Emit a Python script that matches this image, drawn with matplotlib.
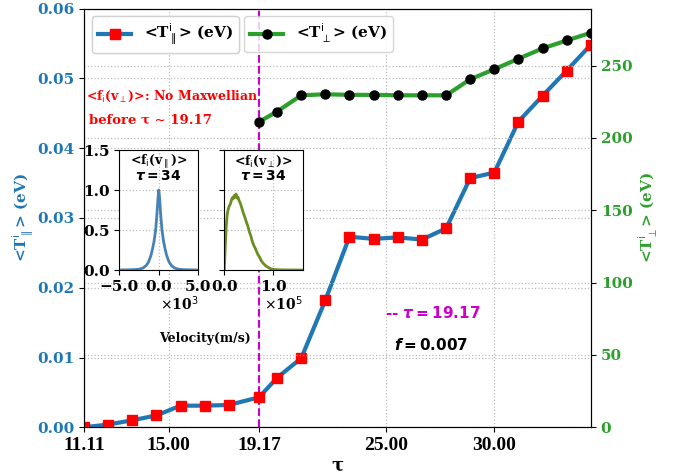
import matplotlib
matplotlib.use("Agg")
import matplotlib.pyplot as plt

# ---------------- data ----------------
tau = [11.11, 12.22, 13.33, 14.44, 15.56, 16.67, 17.78, 19.17, 20.00, 21.11, 22.22,
       23.33, 24.44, 25.56, 26.67, 27.78, 28.89, 30.00, 31.11, 32.22, 33.33, 34.44]
T_par = [0.0000, 0.0004, 0.0010, 0.0017, 0.0031, 0.0031, 0.0032, 0.0043, 0.0071, 0.0099, 0.0182,
         0.0273, 0.0270, 0.0272, 0.0269, 0.0285, 0.0357, 0.0365, 0.0438, 0.0475, 0.0511, 0.0548]
tau_perp = [19.17, 20.00, 21.11, 22.22, 23.33, 24.44, 25.56, 26.67, 27.78,
            28.89, 30.00, 31.11, 32.22, 33.33, 34.44]
T_perp = [211.2, 218.3, 229.5, 230.2, 229.8, 229.8, 229.5, 229.5, 229.5,
          240.6, 247.5, 254.8, 261.9, 267.4, 272.7]
xtick_vals = [11.11, 15.00, 19.17, 25.00, 30.00]
xtick_labels = ["11.11", "15.00", "19.17", "25.00", "30.00"]
left_yticks = [0, 0.01, 0.02, 0.03, 0.04, 0.05, 0.06]
left_yticklabels = ['0.00', '0.01', '0.02', '0.03', '0.04', '0.05', '0.06']
right_yticks = [0, 50, 100, 150, 200, 250]
tau_mark = 19.17

v_par = [-5000, -4000, -3000, -2500, -2000, -1600, -1300, -1000, -800, -600, -400, -250, -100, 0,
         100, 250, 400, 600, 800, 1000, 1300, 1600, 2000, 2500, 3000, 4000, 5000]
f_par = [0.0, 0.002, 0.005, 0.01, 0.025, 0.055, 0.10, 0.18, 0.26, 0.36, 0.50, 0.68, 0.90, 1.0,
         0.90, 0.68, 0.50, 0.36, 0.26, 0.18, 0.10, 0.055, 0.025, 0.01, 0.005, 0.002, 0.0]
v_perp = [0, 2000, 4000, 6000, 8000, 10000, 12000, 14000, 16000, 18000, 20000, 22000, 24000,
          26000, 28000, 30000, 33000, 36000, 39000, 42000, 45000, 48000, 51000, 54000, 57000,
          60000, 64000, 68000, 72000, 76000, 80000, 85000, 90000, 95000, 100000, 110000,
          120000, 140000, 160000]
f_perp = [0.0, 0.30, 0.55, 0.70, 0.76, 0.80, 0.82, 0.86, 0.90, 0.89, 0.93, 0.91, 0.95,
          0.90, 0.91, 0.87, 0.83, 0.77, 0.71, 0.66, 0.60, 0.55, 0.48, 0.43, 0.36,
          0.31, 0.26, 0.20, 0.16, 0.11, 0.08, 0.05, 0.03, 0.015, 0.008, 0.003,
          0.001, 0.0, 0.0]
ins1_xticks = [-5000, 0, 5000]
ins1_xticklabels = ['\u22125.0', '0.0', '5.0']
ins2_xticks = [0, 100000]
ins2_xticklabels = ['0.0', '1.0']
ins_yticks = [0, 0.5, 1.0, 1.5]
ins_yticklabels = ['0.0', '0.5', '1.0', '1.5']

# ---------------- style ----------------
plt.rcParams['font.family'] = ['DejaVu Serif']

BLUE = '#1f77b4'
GREEN = '#2ca02c'
MAG = '#cc00cc'
B = 'bold'

fig = plt.figure(figsize=(6.87, 4.74), dpi=100)
ax = fig.add_axes([84/687, 1-427.3/474, 507/687, 418.8/474])
ax2 = ax.twinx()

l1, = ax.plot(tau, T_par, color=BLUE, lw=3, marker='s', ms=6.5,
              mfc='red', mec='red', zorder=3)
l2, = ax2.plot(tau_perp, T_perp, color=GREEN, lw=3, marker='o', ms=6.5,
               mfc='black', mec='black', zorder=3)

ax.axvline(tau_mark, color=MAG, ls='--', lw=1.5, zorder=2)

ax.set_xlim(11.11, 34.45)
ax.set_ylim(0, 0.06)
ax2.set_ylim(0, 289.5)
ax.set_xticks(xtick_vals)
ax.set_xticklabels(xtick_labels, fontfamily='Liberation Serif', fontsize=14, fontweight=B)
ax.set_yticks(left_yticks)
ax.set_yticklabels(left_yticklabels, fontsize=11, fontweight=B, color=BLUE)
ax2.set_yticks(right_yticks)
ax2.set_yticklabels([str(v) for v in right_yticks], fontsize=11, fontweight=B, color=GREEN)

ax.grid(True, ls=':', color='#bbbbbb', lw=0.9)
ax2.grid(True, axis='y', ls=':', color='#bbbbbb', lw=0.9)

ax.set_xlabel('\u03c4', fontsize=13, labelpad=2, fontweight=B)
ax.set_ylabel(r'<T$^{\rm i}_{\parallel}$> (eV)', color=BLUE, fontsize=11, labelpad=1,
              fontweight=B)
ax2.set_ylabel(r'<T$^{\rm i}_{\perp}$> (eV)', color=GREEN, fontsize=11, labelpad=3,
               fontweight=B)

leg1 = ax.legend([l1], [r'<T$^{\rm i}_{\parallel}$> (eV)'], loc='upper left',
                 bbox_to_anchor=(0.0, 1.0), prop={'weight': B, 'size': 11},
                 handlelength=2.2, borderaxespad=0.5)
ax.add_artist(leg1)
leg2 = ax2.legend([l2], [r'<T$^{\rm i}_{\perp}$> (eV)'], loc='upper left',
                  bbox_to_anchor=(0.300, 1.0), prop={'weight': B, 'size': 11},
                  handlelength=2.2, borderaxespad=0.5)

# annotations
ax.text(0.004, 0.789, r'<f$_{\rm i}$(v$_{\perp}$)>: No Maxwellian', transform=ax.transAxes,
        color='red', fontsize=9, fontweight=B, ha='left', va='center')
ax.text(0.010, 0.732, 'before \u03c4 ~ 19.17', transform=ax.transAxes,
        color='red', fontsize=9.5, fontweight=B, ha='left', va='center')
ax.text(0.238, 0.213, 'Velocity(m/s)', transform=ax.transAxes, color='black',
        fontsize=9, fontweight=B, ha='center', va='center')
ax.text(0.594, 0.273, r'-- $\boldsymbol{\tau = 19.17}$', transform=ax.transAxes,
        color=MAG, fontsize=11, fontfamily='DejaVu Sans', fontweight=B,
        ha='left', va='center')
ax.text(0.611, 0.197, r'$\boldsymbol{f = 0.007}$', transform=ax.transAxes,
        color='black', fontsize=11, fontfamily='DejaVu Sans', ha='left', va='center')

# insets
ins1 = fig.add_axes([119.3/687, 1-270/474, 79/687, 120/474])
ins2 = fig.add_axes([224.3/687, 1-270/474, 78.4/687, 120/474])
ins1.plot(v_par, f_par, color='#4682b4', lw=2)
ins2.plot(v_perp, f_perp, color='#6b8e23', lw=2)
ins1.set_xlim(-5000, 5000)
ins2.set_xlim(0, 160000)
for a in (ins1, ins2):
    a.set_ylim(0, 1.5)
    a.set_yticks(ins_yticks)
    a.grid(True, ls=':', color='#bbbbbb', lw=0.9)
ins1.set_yticklabels(ins_yticklabels, fontsize=11, fontweight=B)
ins2.set_yticklabels([])
ins1.set_xticks(ins1_xticks)
ins1.set_xticklabels(ins1_xticklabels, fontsize=11, fontweight=B)
ins2.set_xticks(ins2_xticks)
ins2.set_xticklabels(ins2_xticklabels, fontsize=11, fontweight=B)
ins1.text(1.0, -0.28, r'$\times$10$^{3}$', transform=ins1.transAxes,
          ha='right', va='center', fontsize=10, fontweight=B)
ins2.text(1.0, -0.28, r'$\times$10$^{5}$', transform=ins2.transAxes,
          ha='right', va='center', fontsize=10, fontweight=B)
ins1.text(0.5, 0.905, r'<f$_{\rm i}$(v$_{\parallel}$)>', transform=ins1.transAxes,
          ha='center', va='center', fontsize=9, fontweight=B)
ins1.text(0.5, 0.78, r'$\boldsymbol{\tau = 34}$', transform=ins1.transAxes,
          ha='center', va='center', fontsize=10)
ins2.text(0.5, 0.905, r'<f$_{\rm i}$(v$_{\perp}$)>', transform=ins2.transAxes,
          ha='center', va='center', fontsize=9, fontweight=B)
ins2.text(0.5, 0.78, r'$\boldsymbol{\tau = 34}$', transform=ins2.transAxes,
          ha='center', va='center', fontsize=10)

fig.savefig('out.png', dpi=100)
